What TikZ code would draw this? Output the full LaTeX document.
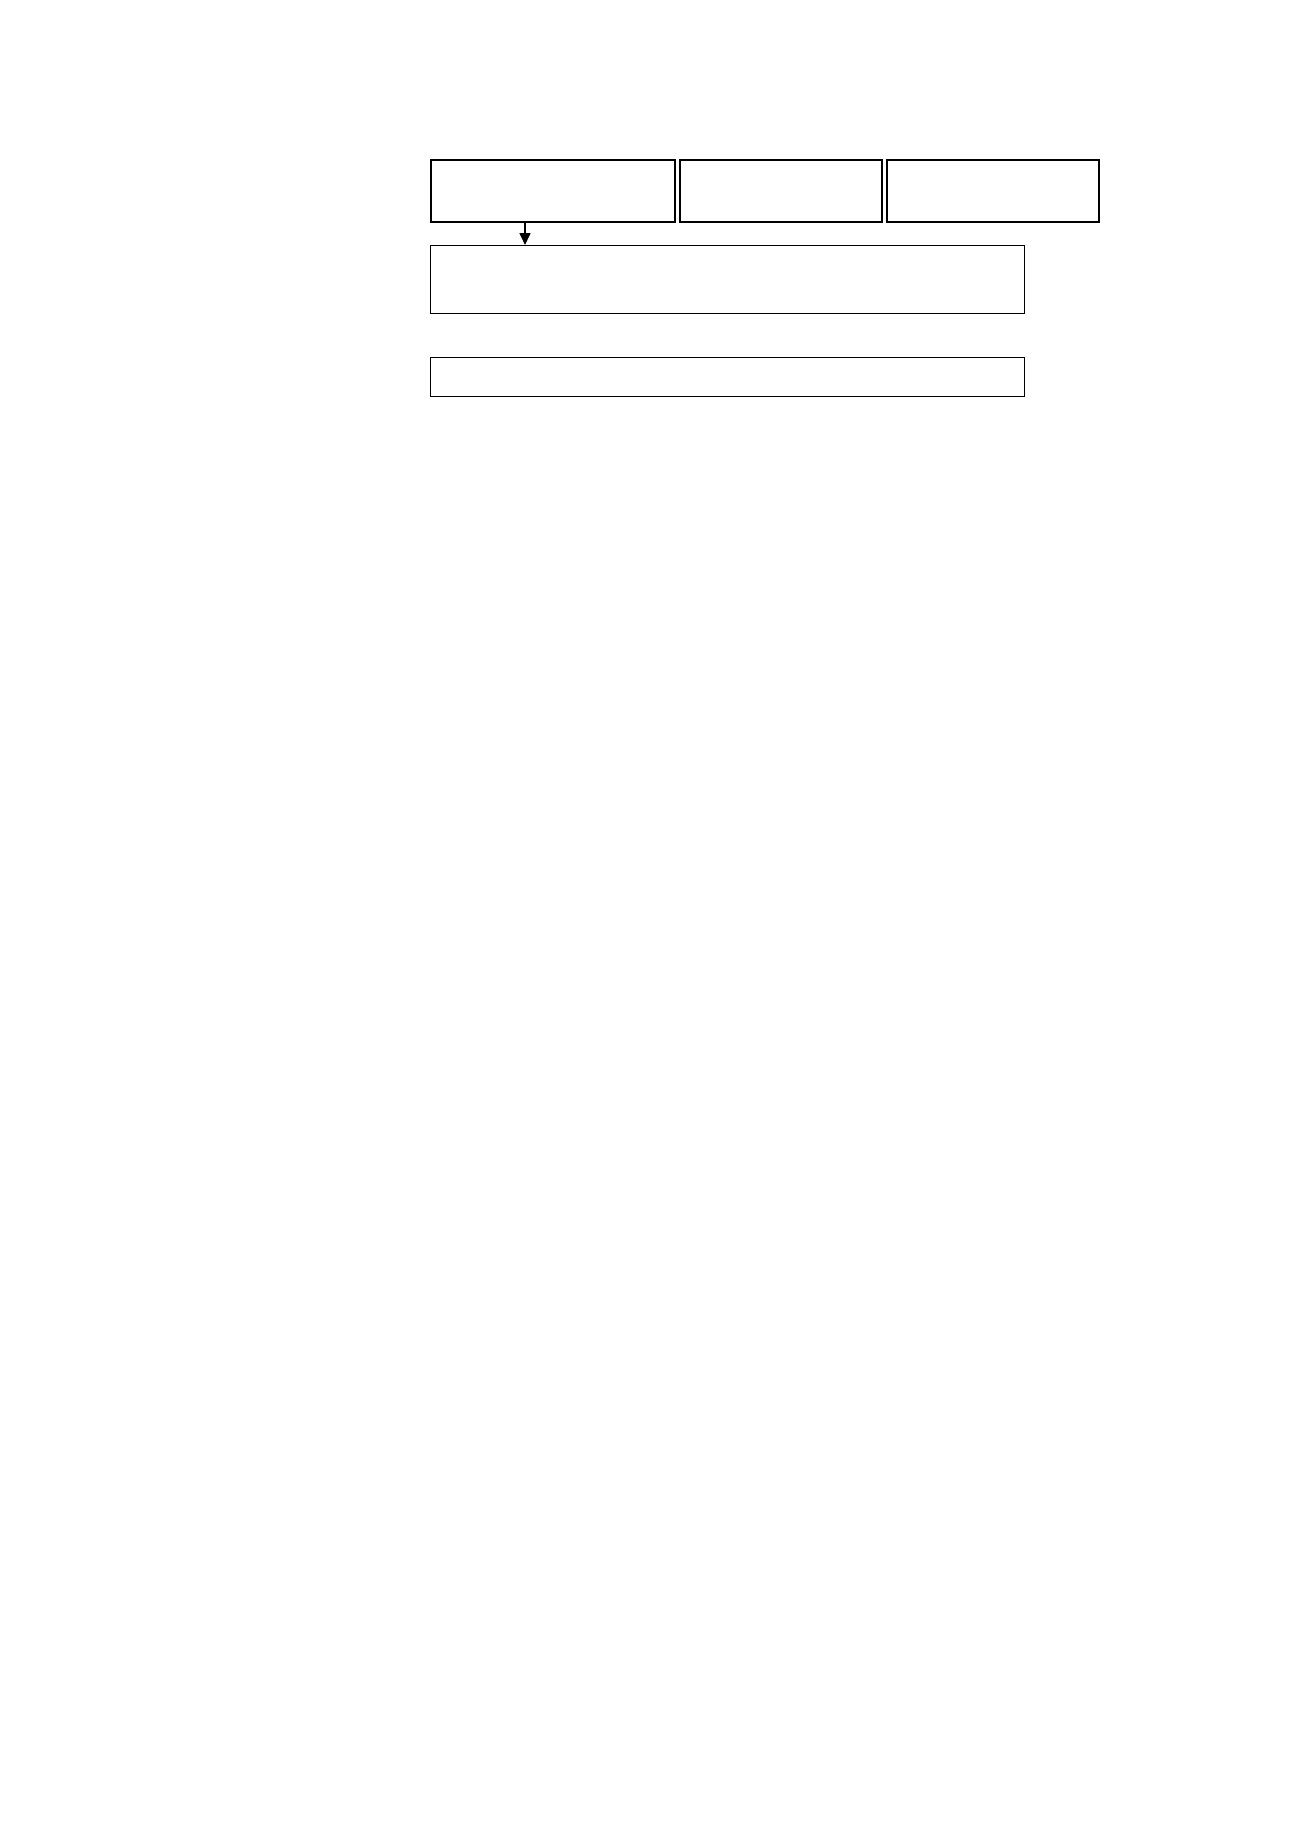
\documentclass[tikz,border=0pt]{standalone}
\usetikzlibrary{arrows.meta}
\tikzset{
  topbox/.style={draw=black, line width=1.8pt, inner sep=0pt, anchor=north west},
  lowbox/.style={draw=black, line width=1pt, inner sep=0pt, anchor=north west},
  link/.style={line width=1.6pt, -{Triangle[length=12pt,width=11pt]}}
}
\begin{document}
\begin{tikzpicture}[x=1pt,y=-1pt]
\useasboundingbox (0,0) rectangle (1300,1839);
\node[topbox, minimum width=244pt, minimum height=62pt] (A) at (430,159) {};
\node[topbox, minimum width=202pt, minimum height=62pt] (B) at (679,159) {};
\node[topbox, minimum width=212pt, minimum height=62pt] (C) at (886,159) {};
\node[lowbox, minimum width=594pt, minimum height=68pt] (D) at (430,245) {};
\node[lowbox, minimum width=594pt, minimum height=39pt] (E) at (430,357) {};
\draw[link] ([xshift=95pt]A.south west) -- ([xshift=95pt]D.north west);
\end{tikzpicture}
\end{document}
